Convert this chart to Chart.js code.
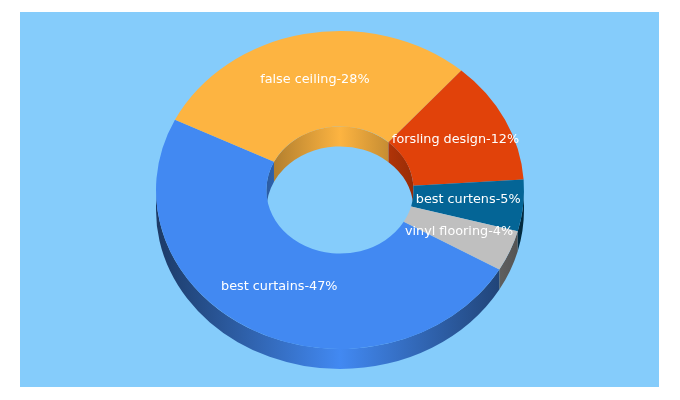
<!DOCTYPE html>
<html lang="en">
<head>
  <meta charset="UTF-8">
  <title>Top keywords</title>
  <script src="https://cdn.jsdelivr.net/npm/chart.js"></script>
  <style>
    body { margin: 0; background: #fff; }
    #panel {
      position: absolute;
      left: 20px;
      top: 12px;
      width: 639px;
      height: 375px;
      background: #85ccfb;
    }
    canvas { display: block; }
  </style>
</head>
<body>
  <div id="panel"><canvas id="donut" width="639" height="375"></canvas></div>

  <script>
    const categories = ['best curtains', 'false ceiling', 'forsling design', 'best curtens', 'vinyl flooring'];
    const shares = [47, 28, 12, 5, 4];
    const sliceColors = ['#4289f2', '#fdb441', '#e1420a', '#046596', '#bfbfbf'];

    // tilt of the disc: vertical squash, wall height, centre in canvas px
    const squash = 0.864;
    const depth = 20;
    const centerY = 178;
    const TAU = Math.PI * 2;

    function shade(hex, amount) {
      const n = parseInt(hex.slice(1), 16);
      const k = 1 - amount;
      return `rgb(${(n >> 16) * k}, ${((n >> 8) & 255) * k}, ${(n & 255) * k})`;
    }

    // part of the arc a0..a1 that falls inside from..to, checking every wrap
    function overlaps(a0, a1, from, to) {
      const out = [];
      for (let k = -2; k <= 2; k++) {
        const s = Math.max(a0, from + k * TAU);
        const e = Math.min(a1, to + k * TAU);
        if (e > s) out.push([s, e]);
      }
      return out;
    }

    function drawWall(ctx, arc, radius, start, end, fill) {
      const rx = radius, ry = radius * squash;
      ctx.beginPath();
      ctx.ellipse(arc.x, centerY, rx, ry, 0, start, end);
      ctx.ellipse(arc.x, centerY + depth, rx, ry, 0, end, start, true);
      ctx.closePath();
      ctx.fillStyle = fill;
      ctx.fill();
    }

    function wallGradient(ctx, x, radius, color, edgeShade) {
      const g = ctx.createLinearGradient(x - radius, 0, x + radius, 0);
      g.addColorStop(0, shade(color, edgeShade));
      g.addColorStop(0.5, color);
      g.addColorStop(1, shade(color, edgeShade));
      return g;
    }

    const tiltPlugin = {
      id: 'tilt',
      beforeDatasetsDraw(chart) {
        const ctx = chart.ctx;
        const arcs = chart.getDatasetMeta(0).data;
        ctx.save();
        arcs.forEach((arc, i) => {
          // inner wall shows on the far side of the hole
          overlaps(arc.startAngle, arc.endAngle, Math.PI, TAU).forEach(([s, e]) => {
            drawWall(ctx, arc, arc.innerRadius, s, e, wallGradient(ctx, arc.x, arc.innerRadius, sliceColors[i], 0.33));
          });
          // outer wall shows on the near side
          overlaps(arc.startAngle, arc.endAngle, 0, Math.PI).forEach(([s, e]) => {
            drawWall(ctx, arc, arc.outerRadius, s, e, wallGradient(ctx, arc.x, arc.outerRadius, sliceColors[i], 0.58));
          });
        });
        const first = arcs[0];
        ctx.translate(first.x, centerY);
        ctx.scale(1, squash);
        ctx.translate(-first.x, -first.y);
      },
      afterDatasetsDraw(chart) {
        const ctx = chart.ctx;
        ctx.restore();
        ctx.save();
        ctx.font = '12.8px "DejaVu Sans"';
        ctx.fillStyle = '#fff';
        ctx.textAlign = 'center';
        ctx.textBaseline = 'middle';
        chart.getDatasetMeta(0).data.forEach((arc, i) => {
          const p = arc.getCenterPoint();
          const y = centerY + (p.y - arc.y) * squash;
          ctx.fillText(`${categories[i]}-${shares[i]}%`, p.x, y - 1);
        });
        ctx.restore();
      }
    };

    new Chart(document.getElementById('donut'), {
      type: 'doughnut',
      data: {
        labels: categories,
        datasets: [{
          data: shares,
          backgroundColor: sliceColors,
          borderWidth: 0,
          hoverOffset: 0,
          clip: false
        }]
      },
      options: {
        responsive: false,
        animation: false,
        rotation: 120,
        cutout: '40%',
        layout: { padding: { top: 3.5, bottom: 3.5, left: 1 } },
        plugins: {
          legend: { display: false },
          tooltip: { enabled: false }
        }
      },
      plugins: [tiltPlugin]
    });
  </script>
</body>
</html>
